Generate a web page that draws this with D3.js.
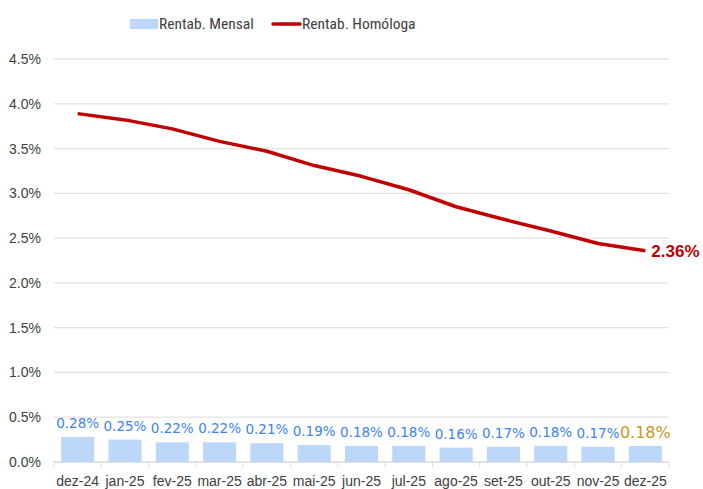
<!DOCTYPE html>
<html><head><meta charset="utf-8">
<script src="https://cdn.jsdelivr.net/npm/d3@7"></script>
<style>body{margin:0;background:#fff}svg{display:block}</style>
</head><body><svg id="c" width="703" height="489"></svg>
<script>
const categories = ["dez-24","jan-25","fev-25","mar-25","abr-25","mai-25","jun-25","jul-25","ago-25","set-25","out-25","nov-25","dez-25"];
const mensal = [0.28,0.25,0.22,0.22,0.21,0.19,0.18,0.18,0.16,0.17,0.18,0.17,0.18];
const homologa = [3.89,3.82,3.72,3.58,3.47,3.31,3.19,3.04,2.85,2.71,2.58,2.44,2.36];
const yTicks = [0,0.5,1,1.5,2,2.5,3,3.5,4,4.5];

const svg = d3.select("#c");
const m = {l:54, r:669, t:59, b:462};
const axisFont = "'Liberation Sans',Arial,sans-serif";
const legendFont = "'Liberation Sans Narrow','Roboto Condensed','Liberation Sans',Arial,sans-serif";
const x = d3.scaleBand().domain(categories).range([m.l,m.r]).paddingInner(0.3).paddingOuter(0.15);
const xb = d3.scaleBand().domain(categories).range([m.l,m.r]);
const y = d3.scaleLinear().domain([0,4.5]).range([m.b,m.t]);

// grid
svg.append("g").selectAll("line").data(yTicks).join("line")
  .attr("x1",m.l).attr("x2",m.r).attr("y1",d=>y(d)).attr("y2",d=>y(d))
  .attr("stroke",d=>d===0?"#d9d9d9":"#e3e3e3").attr("stroke-width",1.3);
// y labels
svg.append("g").selectAll("text").data(yTicks).join("text")
  .attr("x",41).attr("y",d=>y(d)+5).attr("text-anchor","end")
  .attr("font-family",axisFont).attr("font-size",14).attr("fill","#404040")
  .text(d=>d.toFixed(1)+"%");
// x ticks
svg.append("g").selectAll("line").data(categories.concat(["_end"])).join("line")
  .attr("x1",(d,i)=>m.l+i*xb.step()).attr("x2",(d,i)=>m.l+i*xb.step())
  .attr("y1",m.b).attr("y2",m.b+5).attr("stroke","#d9d9d9");
svg.append("g").selectAll("text").data(categories).join("text")
  .attr("x",d=>xb(d)+xb.bandwidth()/2).attr("y",486).attr("text-anchor","middle")
  .attr("font-family",axisFont).attr("font-size",14).attr("fill","#404040").text(d=>d);

// bars
svg.append("g").selectAll("rect").data(mensal).join("rect")
  .attr("x",(d,i)=>x(categories[i])).attr("width",x.bandwidth())
  .attr("y",d=>y(d)).attr("height",d=>m.b-y(d)).attr("fill","#BDD7FB");
// bar labels
svg.append("g").selectAll("text").data(mensal).join("text")
  .attr("x",(d,i)=>xb(categories[i])+xb.bandwidth()/2)
  .attr("y",(d,i)=>y(d)-(i===categories.length-1?8:9))
  .attr("text-anchor","middle")
  .attr("font-family","Verdana,'DejaVu Sans',sans-serif")
  .attr("font-size",(d,i)=>i===categories.length-1?16:13.5)
  .attr("fill",(d,i)=>i===categories.length-1?"#C9961A":"#3B82F6")
  .text(d=>d.toFixed(2)+"%");

// line
const line = d3.line().x((d,i)=>xb(categories[i])+xb.bandwidth()/2).y(d=>y(d));
svg.append("path").datum(homologa).attr("d",line).attr("fill","none")
  .attr("stroke","#C00000").attr("stroke-width",3.5).attr("stroke-linejoin","round");
const li = homologa.length-1;
svg.append("text").attr("x",xb(categories[li])+xb.bandwidth()/2+6).attr("y",y(homologa[li])+6)
  .attr("font-family","'Liberation Sans',Arial,sans-serif").attr("font-weight","bold")
  .attr("font-size",17).attr("fill","#C00000").text(homologa[li].toFixed(2)+"%");

// legend
const lg = svg.append("g");
lg.append("rect").attr("x",130).attr("y",19).attr("width",28).attr("height",10).attr("fill","#BDD7FB");
lg.append("text").attr("x",159).attr("y",29).attr("font-family",legendFont).attr("font-size",15.5).attr("fill","#404040").text("Rentab. Mensal");
lg.append("line").attr("x1",273).attr("x2",300).attr("y1",24).attr("y2",24).attr("stroke","#C00000").attr("stroke-width",3.5).attr("stroke-linecap","round");
lg.append("text").attr("x",302).attr("y",29).attr("font-family",legendFont).attr("font-size",15.5).attr("fill","#404040").text("Rentab. Homóloga");
</script></body></html>
